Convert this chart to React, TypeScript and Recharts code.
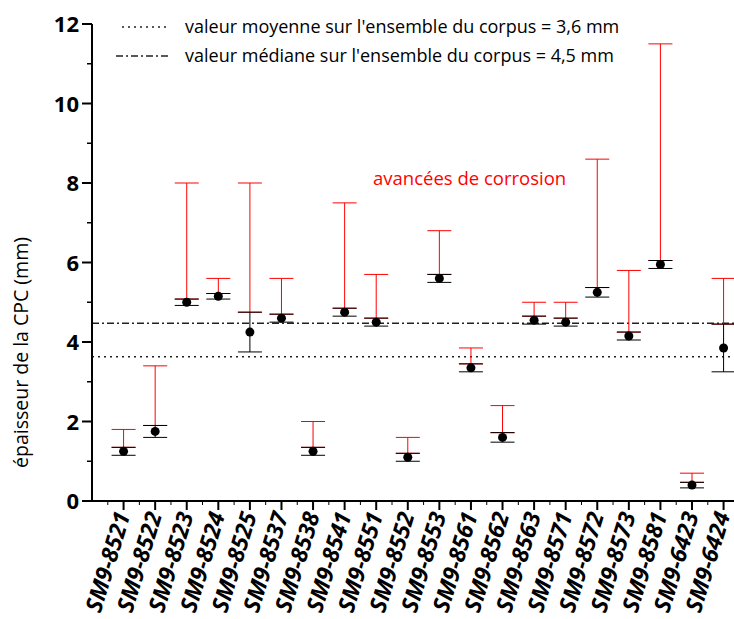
import {
  ComposedChart,
  Scatter,
  ErrorBar,
  XAxis,
  YAxis,
  ReferenceLine,
} from 'recharts'

const samples = [
  'SM9-8521', 'SM9-8522', 'SM9-8523', 'SM9-8524', 'SM9-8525',
  'SM9-8537', 'SM9-8538', 'SM9-8541', 'SM9-8551', 'SM9-8552',
  'SM9-8553', 'SM9-8561', 'SM9-8562', 'SM9-8563', 'SM9-8571',
  'SM9-8572', 'SM9-8573', 'SM9-8581', 'SM9-6423', 'SM9-6424',
]
const thickness = [1.25, 1.75, 5.0, 5.15, 4.25, 4.6, 1.25, 4.75, 4.5, 1.1, 5.6, 3.35, 1.6, 4.55, 4.5, 5.25, 4.15, 5.95, 0.4, 3.85]
const errLow = [0.1, 0.15, 0.08, 0.07, 0.5, 0.1, 0.1, 0.1, 0.1, 0.1, 0.1, 0.1, 0.12, 0.1, 0.1, 0.12, 0.1, 0.1, 0.07, 0.6]
const errHigh = [0.1, 0.15, 0.08, 0.07, 0.5, 0.1, 0.1, 0.1, 0.1, 0.1, 0.1, 0.1, 0.12, 0.1, 0.1, 0.12, 0.1, 0.1, 0.07, 0.6]
const corrosionMax = [1.8, 3.4, 8.0, 5.6, 8.0, 5.6, 2.0, 7.5, 5.7, 1.6, 6.8, 3.85, 2.4, 5.0, 5.0, 8.6, 5.8, 11.5, 0.7, 5.6]

const meanValue = 3.63
const medianValue = 4.47
const yTicks = [0, 1, 2, 3, 4, 5, 6, 7, 8, 9, 10, 11, 12]

const data = samples.map((name, i) => ({
  x: i + 1,
  name,
  y: thickness[i],
  err: [errLow[i], errHigh[i]],
  // red bar starts at the top of the black bar and goes up to the corrosion max
  corr: [-errHigh[i], corrosionMax[i] - thickness[i]],
}))

// major ticks on the samples, minor ones half-way between
const xTicks = data.flatMap((d) => [d.x - 0.5, d.x])

const font = '"Open Sans", sans-serif'

function SampleTick(props: any) {
  const { x, y, payload } = props
  const v = payload.value
  const major = Number.isInteger(v)
  if (!major) {
    return <line x1={x} x2={x} y1={y} y2={y + 4} stroke="#000" strokeWidth={1} />
  }
  const label = samples[v - 1] ?? ''
  const tx = x + 7
  const ty = y + 14
  return (
    <g>
      <line x1={x} x2={x} y1={y} y2={y + 9} stroke="#000" strokeWidth={2} />
      <text
        x={tx}
        y={ty}
        transform={`rotate(-73, ${tx}, ${ty})`}
        textAnchor="end"
        fontFamily={font}
        fontWeight="bold"
        fontStyle="italic"
        fontSize={23}
        fill="#000"
      >
        {label}
      </text>
    </g>
  )
}

function ValueTick(props: any) {
  const { x, y, payload } = props
  const v = payload.value
  if (v % 2 !== 0) {
    return <line x1={x - 5} x2={x} y1={y} y2={y} stroke="#000" strokeWidth={1.5} />
  }
  return (
    <g>
      <line x1={x - 10} x2={x} y1={y} y2={y} stroke="#000" strokeWidth={2} />
      <text x={x - 13} y={y + 8} textAnchor="end" fontFamily={font} fontWeight="bold" fontSize={22} fill="#000">
        {v}
      </text>
    </g>
  )
}

function Dot(props: any) {
  const { cx, cy } = props
  return <circle cx={cx} cy={cy} r={4.5} fill="#000" />
}

export default function App() {
  return (
    <div style={{ position: 'fixed', left: 0, top: 0, width: 734, height: 619, overflow: 'hidden', background: '#fff' }}>
      <ComposedChart width={734} height={619} margin={{ top: 24, right: 0, bottom: 0, left: 0 }}>
        <XAxis
          type="number"
          dataKey="x"
          domain={[0, 20.33]}
          ticks={xTicks}
          interval={0}
          tick={<SampleTick />}
          tickSize={0}
          tickMargin={0}
          tickLine={false}
          axisLine={{ stroke: '#000', strokeWidth: 2 }}
          height={118}
        />
        <YAxis
          type="number"
          domain={[0, 12]}
          ticks={yTicks}
          interval={0}
          tickSize={0}
          tickMargin={0}
          tickLine={false}
          axisLine={{ stroke: '#000', strokeWidth: 2 }}
          tick={<ValueTick />}
          width={92}
          label={{
            value: 'épaisseur de la CPC (mm)',
            angle: -90,
            position: 'insideLeft',
            dx: 16,
            dy: 90,
            style: { fontFamily: font, fontSize: 19.5, fill: '#000', textAnchor: 'middle' },
          }}
        />
        <ReferenceLine y={meanValue} stroke="#222" strokeWidth={1.5} strokeDasharray="2 4" />
        <ReferenceLine y={medianValue} stroke="#222" strokeWidth={1.5} strokeDasharray="7 3 2 3" />
        <Scatter data={data} dataKey="y" shape={<Dot />} isAnimationActive={false}>
          <ErrorBar dataKey="corr" direction="y" width={12} stroke="#ff0000" strokeWidth={1} isAnimationActive={false} />
          <ErrorBar dataKey="err" direction="y" width={12} stroke="#000" strokeWidth={1} isAnimationActive={false} />
        </Scatter>
      </ComposedChart>
      <svg width={734} height={80} style={{ position: 'absolute', left: 0, top: 0 }}>
        <line x1={122} x2={168} y1={27} y2={27} stroke="#222" strokeWidth={1.5} strokeDasharray="2 4" />
        <line x1={116} x2={168} y1={56} y2={56} stroke="#222" strokeWidth={1.5} strokeDasharray="7 3 2 3" />
        <text x={185} y={33} fontFamily={font} fontSize={18} fill="#000">
          valeur moyenne sur l'ensemble du corpus = 3,6 mm
        </text>
        <text x={185} y={62} fontFamily={font} fontSize={18} fill="#000">
          valeur médiane sur l'ensemble du corpus = 4,5 mm
        </text>
      </svg>
      <div
        style={{
          position: 'absolute',
          left: 373,
          top: 164,
          fontFamily: font,
          fontSize: 18.5,
          color: '#ff0000',
          whiteSpace: 'nowrap',
          lineHeight: '28px',
        }}
      >
        avancées de corrosion
      </div>
    </div>
  )
}
